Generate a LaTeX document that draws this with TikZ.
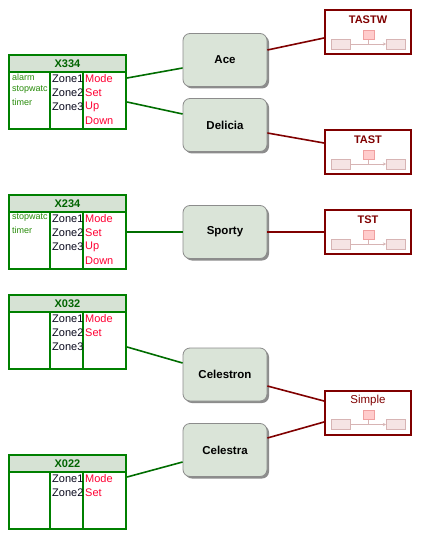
\documentclass[tikz,border=0pt]{standalone}
\usepackage{fontspec}
\setmainfont{Liberation Sans}
\usetikzlibrary{calc,shadows,arrows.meta}
\definecolor{gdark}{RGB}{0,128,0}
\definecolor{ghdr}{RGB}{214,226,212}
\definecolor{htxt}{RGB}{0,100,0}
\definecolor{ltxt}{RGB}{40,140,10}
\definecolor{redtxt}{RGB}{255,0,51}
\definecolor{ztxt}{RGB}{10,10,30}
\definecolor{rfill}{RGB}{218,228,216}
\definecolor{dred}{RGB}{128,0,0}
\definecolor{pinksq}{RGB}{255,204,204}
\definecolor{pinksqb}{RGB}{240,160,160}
\definecolor{pinkrc}{RGB}{245,228,228}
\definecolor{pinkrcb}{RGB}{215,180,180}
\tikzset{
  gbox/.style={draw=gdark, line width=2.2pt, rectangle, minimum width=117pt, minimum height=74pt, inner sep=0pt},
  gline/.style={draw=gdark, line width=1.3pt},
  gconn/.style={draw=gdark!85!black, line width=1.6pt},
  rconn/.style={draw=dred, line width=1.6pt},
  htitle/.style={font=\fontsize{11}{13}\selectfont\bfseries, text=htxt, inner sep=0pt},
  ltext/.style={font=\fontsize{9}{11}\selectfont, text=ltxt, anchor=west, inner sep=0pt},
  ztext/.style={font=\fontsize{11}{13}\selectfont, text=ztxt, anchor=west, inner sep=0pt},
  mtext/.style={font=\fontsize{11}{13}\selectfont, text=redtxt, anchor=west, inner sep=0pt},
  rbox/.style={rectangle, rounded corners=7pt, minimum width=84pt, minimum height=53pt,
    fill=rfill, draw=black!45, line width=0.8pt,
    drop shadow={shadow xshift=2pt, shadow yshift=-2pt, fill=black!45, opacity=1},
    font=\fontsize{11.5}{13}\selectfont\bfseries},
  dbox/.style={rectangle, draw=dred, line width=2pt, minimum width=86pt, minimum height=44pt, fill=white, inner sep=0pt},
  dtitle/.style={font=\fontsize{11}{13}\selectfont\bfseries, text=dred, inner sep=0pt},
  icon/.pic={
    \draw[pinkrcb, line width=0.9pt, -{Stealth[length=3pt,width=3pt]}] (-18,12) -- (18,12);
    \draw[pinkrcb, line width=0.9pt] (0.5,7) -- (0.5,12);
    \filldraw[fill=pinksq, draw=pinksqb, line width=0.7pt] (-5,-2) rectangle (6,7);
    \filldraw[fill=pinkrc, draw=pinkrcb, line width=0.7pt] (-37,7) rectangle (-18,17);
    \filldraw[fill=pinkrc, draw=pinkrcb, line width=0.7pt] (18,7) rectangle (37,17);
  }
}
\newcommand{\gtab}[3]{%
  \fill[ghdr] (9,#2) rectangle (126,#2+17);
  \draw[gline] (9,#2+17) -- (126,#2+17);
  \draw[gline] (50,#2+17) -- (50,#2+74);
  \draw[gline] (83,#2+17) -- (83,#2+74);
  \node[gbox] (#1) at (67.5,#2+37) {};
  \node[htitle] (#1t) at (67.5,#2+8.5) {#3};
}
\begin{document}
\begin{tikzpicture}[x=1pt,y=-1pt]
\useasboundingbox (0,0) rectangle (420,540);
\fill[white] (0,0) rectangle (420,540);

% tables
\gtab{xa}{55}{X334}
\node[ltext] (xal1) at (12,77) {alarm};
\node[ltext] (xal2) at (12,89.5) {stopwatc};
\node[ltext] (xal3) at (12,102) {timer};
\node[ztext] (xaz1) at (52,79) {Zone1};
\node[ztext] (xaz2) at (52,93) {Zone2};
\node[ztext] (xaz3) at (52,107) {Zone3};
\node[mtext] (xam1) at (85,79) {Mode};
\node[mtext] (xam2) at (85,93) {Set};
\node[mtext] (xam3) at (85,107) {Up};
\node[mtext] (xam4) at (85,121) {Down};

\gtab{xb}{195}{X234}
\node[ltext] (xbl1) at (12,218) {stopwatc};
\node[ltext] (xbl2) at (12,230) {timer};
\node[ztext] (xbz1) at (52,219) {Zone1};
\node[ztext] (xbz2) at (52,233) {Zone2};
\node[ztext] (xbz3) at (52,247) {Zone3};
\node[mtext] (xbm1) at (85,219) {Mode};
\node[mtext] (xbm2) at (85,233) {Set};
\node[mtext] (xbm3) at (85,247) {Up};
\node[mtext] (xbm4) at (85,261) {Down};

\gtab{xc}{295}{X032}
\node[ztext] (xcz1) at (52,319) {Zone1};
\node[ztext] (xcz2) at (52,333) {Zone2};
\node[ztext] (xcz3) at (52,347) {Zone3};
\node[mtext] (xcm1) at (85,319) {Mode};
\node[mtext] (xcm2) at (85,333) {Set};

\gtab{xd}{455}{X022}
\node[ztext] (xdz1) at (52,479) {Zone1};
\node[ztext] (xdz2) at (52,493) {Zone2};
\node[mtext] (xdm1) at (85,479) {Mode};
\node[mtext] (xdm2) at (85,493) {Set};

% rounded boxes
\node[rbox] (ace) at (225,60) {Ace};
\node[rbox] (del) at (225,125) {Delicia};
\node[rbox] (spo) at (225,232) {Sporty};
\node[rbox] (cen) at (225,374.5) {Celestron};
\node[rbox] (cea) at (225,450) {Celestra};

% red boxes
\node[dbox] (tastw) at (368,32) {};
\node[dtitle] (tastwt) at (368,20) {TASTW};
\pic at (tastw.center) {icon};
\node[dbox] (tast) at (368,152) {};
\node[dtitle] (tastt) at (368,140) {TAST};
\pic at (tast.center) {icon};
\node[dbox] (tst) at (368,232) {};
\node[dtitle] (tstt) at (368,220) {TST};
\pic at (tst.center) {icon};
\node[dbox] (simp) at (368,412.5) {};
\node[dtitle, font=\fontsize{11.5}{13}\selectfont] (simpt) at (368,400.5) {Simple};
\pic at (simp.center) {icon};

% green connectors
\draw[gconn] ($(xa.east)+(0,-14)$) -- ($(ace.west)+(0,8)$);
\draw[gconn] ($(xa.east)+(0,10)$) -- ($(del.west)+(0,-11)$);
\draw[gconn] (xb.east) -- (spo.west);
\draw[gconn] ($(xc.east)+(0,15)$) -- ($(cen.west)+(0,-11.5)$);
\draw[gconn] ($(xd.east)+(0,-15)$) -- ($(cea.west)+(0,12)$);

% red connectors
\draw[rconn] ($(ace.east)+(0,-10)$) -- ($(tastw.west)+(0,6)$);
\draw[rconn] ($(del.east)+(0,8)$) -- ($(tast.west)+(0,-9)$);
\draw[rconn] (spo.east) -- (tst.west);
\draw[rconn] ($(cen.east)+(0,11.5)$) -- ($(simp.west)+(0,-11.5)$);
\draw[rconn] ($(cea.east)+(0,-12)$) -- ($(simp.west)+(0,9.5)$);
\end{tikzpicture}
\end{document}
